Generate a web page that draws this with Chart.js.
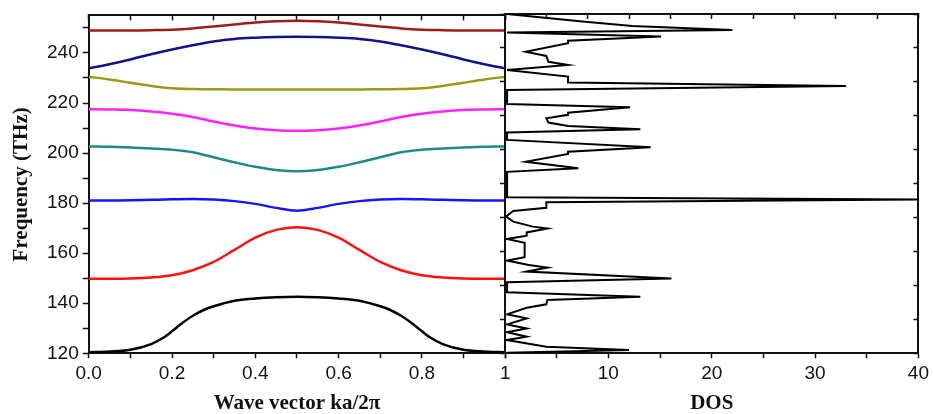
<!DOCTYPE html>
<html>
<head>
<meta charset="utf-8">
<script src="https://cdn.jsdelivr.net/npm/chart.js@4"></script>
<style>
  body { margin: 0; background: #fff; }
  #wrap { position: relative; width: 933px; height: 414px; }
  #bandChart { position: absolute; left: 0; top: 0; }
  #dosChart { position: absolute; left: 480px; top: 0; }
</style>
</head>
<body>
<div id="wrap">
  <canvas id="bandChart" width="515" height="414"></canvas>
  <canvas id="dosChart" width="453" height="414"></canvas>
</div>
<script>
// wave vector ka/2pi
const waveVector = [0, 0.05, 0.1, 0.15, 0.2, 0.25, 0.3, 0.35, 0.4, 0.45, 0.5,
  0.55, 0.6, 0.65, 0.7, 0.75, 0.8, 0.85, 0.9, 0.95, 1];
// the lowest band bends sharply, so it was read at more points
const waveVector1 = [0, 0.05, 0.1, 0.15, 0.18, 0.2, 0.22, 0.25, 0.28, 0.3, 0.35, 0.4, 0.45, 0.5,
  0.55, 0.6, 0.65, 0.7, 0.72, 0.75, 0.78, 0.8, 0.82, 0.85, 0.9, 0.95, 1];

// band frequencies (THz)
const band1 = [120.4, 120.7, 121.4, 123.7, 126.3, 128.8, 131.5, 135.0, 137.6, 138.8, 141.0, 141.9, 142.4, 142.6,
  142.4, 141.9, 141.0, 138.8, 137.6, 135.0, 131.5, 128.8, 126.3, 123.7, 121.4, 120.7, 120.4];
const band2 = [149.8, 149.8, 149.9, 150.3, 151.2, 153.2, 156.5, 161.3, 166.2, 169.3, 170.4,
  169.3, 166.2, 161.3, 156.5, 153.2, 151.2, 150.3, 149.9, 149.8, 149.8];
const band3 = [181.0, 181.0, 181.1, 181.3, 181.5, 181.6, 181.4, 180.8, 179.7, 178.1, 177.0,
  178.1, 179.7, 180.8, 181.4, 181.6, 181.5, 181.3, 181.1, 181.0, 181.0];
const band4 = [202.6, 202.5, 202.2, 201.8, 201.3, 200.3, 198.3, 196.3, 194.5, 193.2, 192.7,
  193.2, 194.5, 196.3, 198.3, 200.3, 201.3, 201.8, 202.2, 202.5, 202.6];
const band5 = [217.5, 217.4, 217.2, 216.6, 215.7, 214.4, 212.6, 211.0, 209.8, 209.1, 208.9,
  209.1, 209.8, 211.0, 212.6, 214.4, 215.7, 216.6, 217.2, 217.4, 217.5];
const band6 = [230.5, 229.4, 228.1, 226.8, 225.9, 225.6, 225.5, 225.4, 225.4, 225.4, 225.4,
  225.4, 225.4, 225.4, 225.5, 225.6, 225.9, 226.8, 228.1, 229.4, 230.5];
const band7 = [233.8, 235.5, 237.4, 239.5, 241.4, 243.1, 244.6, 245.6, 246.1, 246.4, 246.5,
  246.4, 246.1, 245.6, 244.6, 243.1, 241.4, 239.5, 237.4, 235.5, 233.8];
const band8 = [249.0, 249.0, 249.0, 249.1, 249.3, 249.8, 250.6, 251.4, 252.2, 252.7, 252.9,
  252.7, 252.2, 251.4, 250.6, 249.8, 249.3, 249.1, 249.0, 249.0, 249.0];

const bandColors = ["#000000", "#ff1010", "#1414ff", "#1a8a8a", "#ff22ff", "#9a9a12", "#12128c", "#a01a1a"];
const bands = [band1, band2, band3, band4, band5, band6, band7, band8];

// density of states: frequency (THz) and DOS value, top to bottom
const dosFreq = [255.0, 252.0, 250.2, 248.6, 247.6, 246.0, 244.4, 243.4, 240.0, 238.3,
  236.0, 234.7, 232.7, 230.1, 227.7, 226.4, 224.8, 219.2, 217.9, 215.7,
  214.9, 213.5, 211.8, 210.4, 209.1, 207.9, 204.9, 202.0, 200.2, 199.3,
  196.2, 193.6, 192.2, 182.1, 181.2, 180.1, 177.9, 176.6, 174.4, 172.4,
  170.4, 169.7, 168.1, 166.8, 165.5, 164.0, 158.2, 156.9, 155.1, 154.1,
  152.5, 149.8, 148.3, 144.3, 142.5, 141.2, 139.5, 138.1, 135.5, 133.9,
  131.5, 129.9, 128.4, 126.6, 125.3, 122.6, 121.3, 120.2];
const dosValue = [0.2, 7.5, 12.3, 22.0, 0.2, 15.1, 6.1, 6.1, 2.0, 4.0,
  4.2, 6.1, 0.2, 6.1, 6.1, 33.0, 0.2, 0.2, 12.1, 6.1,
  6.1, 4.0, 4.2, 6.1, 13.1, 0.2, 0.2, 14.1, 6.1, 6.1,
  2.0, 7.1, 0.2, 0.2, 40, 4.0, 4.0, 0.8, 0.1, 0.8,
  2.7, 4.1, 2.1, 2.1, 0.2, 1.9, 1.9, 0.2, 2.3, 4.1,
  2.1, 16.1, 0.2, 0.2, 13.1, 4.1, 4.0, 2.1, 0.2, 2.1,
  0.2, 2.1, 0.2, 2.1, 0.2, 4.0, 12.0, 0.2];

Chart.defaults.font.family = "'Liberation Sans', Arial, sans-serif";
Chart.defaults.font.size = 19;
Chart.defaults.color = "#111";

const axisLine = { color: "#111", width: 2 };
const titleFont = { family: "'Liberation Serif', 'Times New Roman', serif", size: 21, weight: "bold", lineHeight: 1 };

function tickGrid(len) {
  return { drawOnChartArea: false, tickLength: len, tickColor: "#111", tickWidth: 1.5 };
}

new Chart(document.getElementById("bandChart"), {
  type: "scatter",
  data: {
    datasets: bands.map((b, n) => {
      const ks = n === 0 ? waveVector1 : waveVector;
      return {
        data: ks.map((k, i) => ({ x: k, y: b[i] })),
        showLine: true,
        borderColor: bandColors[n],
        borderWidth: 2.5,
        pointRadius: 0,
        cubicInterpolationMode: "monotone",
      };
    }),
  },
  options: {
    responsive: false,
    animation: false,
    layout: { padding: { top: 14, right: 9.8, bottom: 0, left: 0 } },
    plugins: { legend: { display: false }, tooltip: { enabled: false } },
    scales: {
      x: {
        type: "linear",
        position: "bottom",
        min: 0,
        max: 1,
        ticks: {
          stepSize: 0.1,
          autoSkip: false,
          maxRotation: 0,
          padding: 4,
          callback: (v) => {
            const k = Math.round(v * 10);
            if (k % 2) return "";
            return k === 10 ? "1" : (k / 10).toFixed(1);
          },
        },
        grid: tickGrid(5),
        border: axisLine,
        title: { display: true, text: "Wave vector ka/2π", font: titleFont, color: "#111", padding: { top: 0, bottom: 0 } },
        afterFit: (s) => { s.height = 60.7; },
      },
      xt: {
        type: "linear",
        position: "top",
        min: 0,
        max: 1,
        ticks: { display: false, stepSize: 0.1 },
        grid: tickGrid(-5),
        border: axisLine,
        afterFit: (s) => { s.height = 0; },
      },
      y: {
        min: 120,
        max: 255,
        ticks: {
          stepSize: 10,
          includeBounds: false,
          autoSkip: false,
          padding: 4,
          callback: (v) => (v % 20 === 0 ? v : ""),
        },
        grid: tickGrid(6),
        border: axisLine,
        title: { display: true, text: "Frequency (THz)", font: titleFont, color: "#111", padding: { top: 11, bottom: 0 } },
        afterFit: (s) => { s.width = 88.7; },
      },
    },
  },
});

new Chart(document.getElementById("dosChart"), {
  type: "scatter",
  data: {
    datasets: [{
      data: dosValue.map((d, i) => ({ x: d, y: dosFreq[i] })),
      showLine: true,
      borderColor: "#000",
      borderWidth: 2,
      pointRadius: 0,
      tension: 0,
    }],
  },
  options: {
    responsive: false,
    animation: false,
    layout: { padding: { top: 14, right: 10.7, bottom: 0, left: 0 } },
    plugins: { legend: { display: false }, tooltip: { enabled: false } },
    scales: {
      x: {
        type: "linear",
        position: "bottom",
        min: 0,
        max: 40,
        ticks: {
          stepSize: 5,
          autoSkip: false,
          maxRotation: 0,
          padding: 4,
          callback: (v) => (v > 0 && v % 10 === 0 ? v : ""),
        },
        grid: tickGrid(5),
        border: axisLine,
        title: { display: true, text: "DOS", font: titleFont, color: "#111", padding: { top: 0, bottom: 0 } },
        afterFit: (s) => { s.height = 60.7; },
      },
      xt: {
        type: "linear",
        position: "top",
        min: 0,
        max: 40,
        ticks: { display: false, stepSize: 4 },
        grid: tickGrid(-5),
        border: axisLine,
        afterFit: (s) => { s.height = 0; },
      },
      y: { display: false, min: 120, max: 255 },
      yl: {
        type: "linear",
        position: "left",
        min: 0,
        max: 10,
        ticks: { display: false, stepSize: 1 },
        grid: tickGrid(5),
        border: axisLine,
        afterFit: (s) => { s.width = 25; },
      },
      yr: {
        type: "linear",
        position: "right",
        min: 0,
        max: 10,
        ticks: { display: false, stepSize: 1 },
        grid: tickGrid(-5),
        border: axisLine,
        afterFit: (s) => { s.width = 0; },
      },
    },
  },
});
</script>
</body>
</html>
